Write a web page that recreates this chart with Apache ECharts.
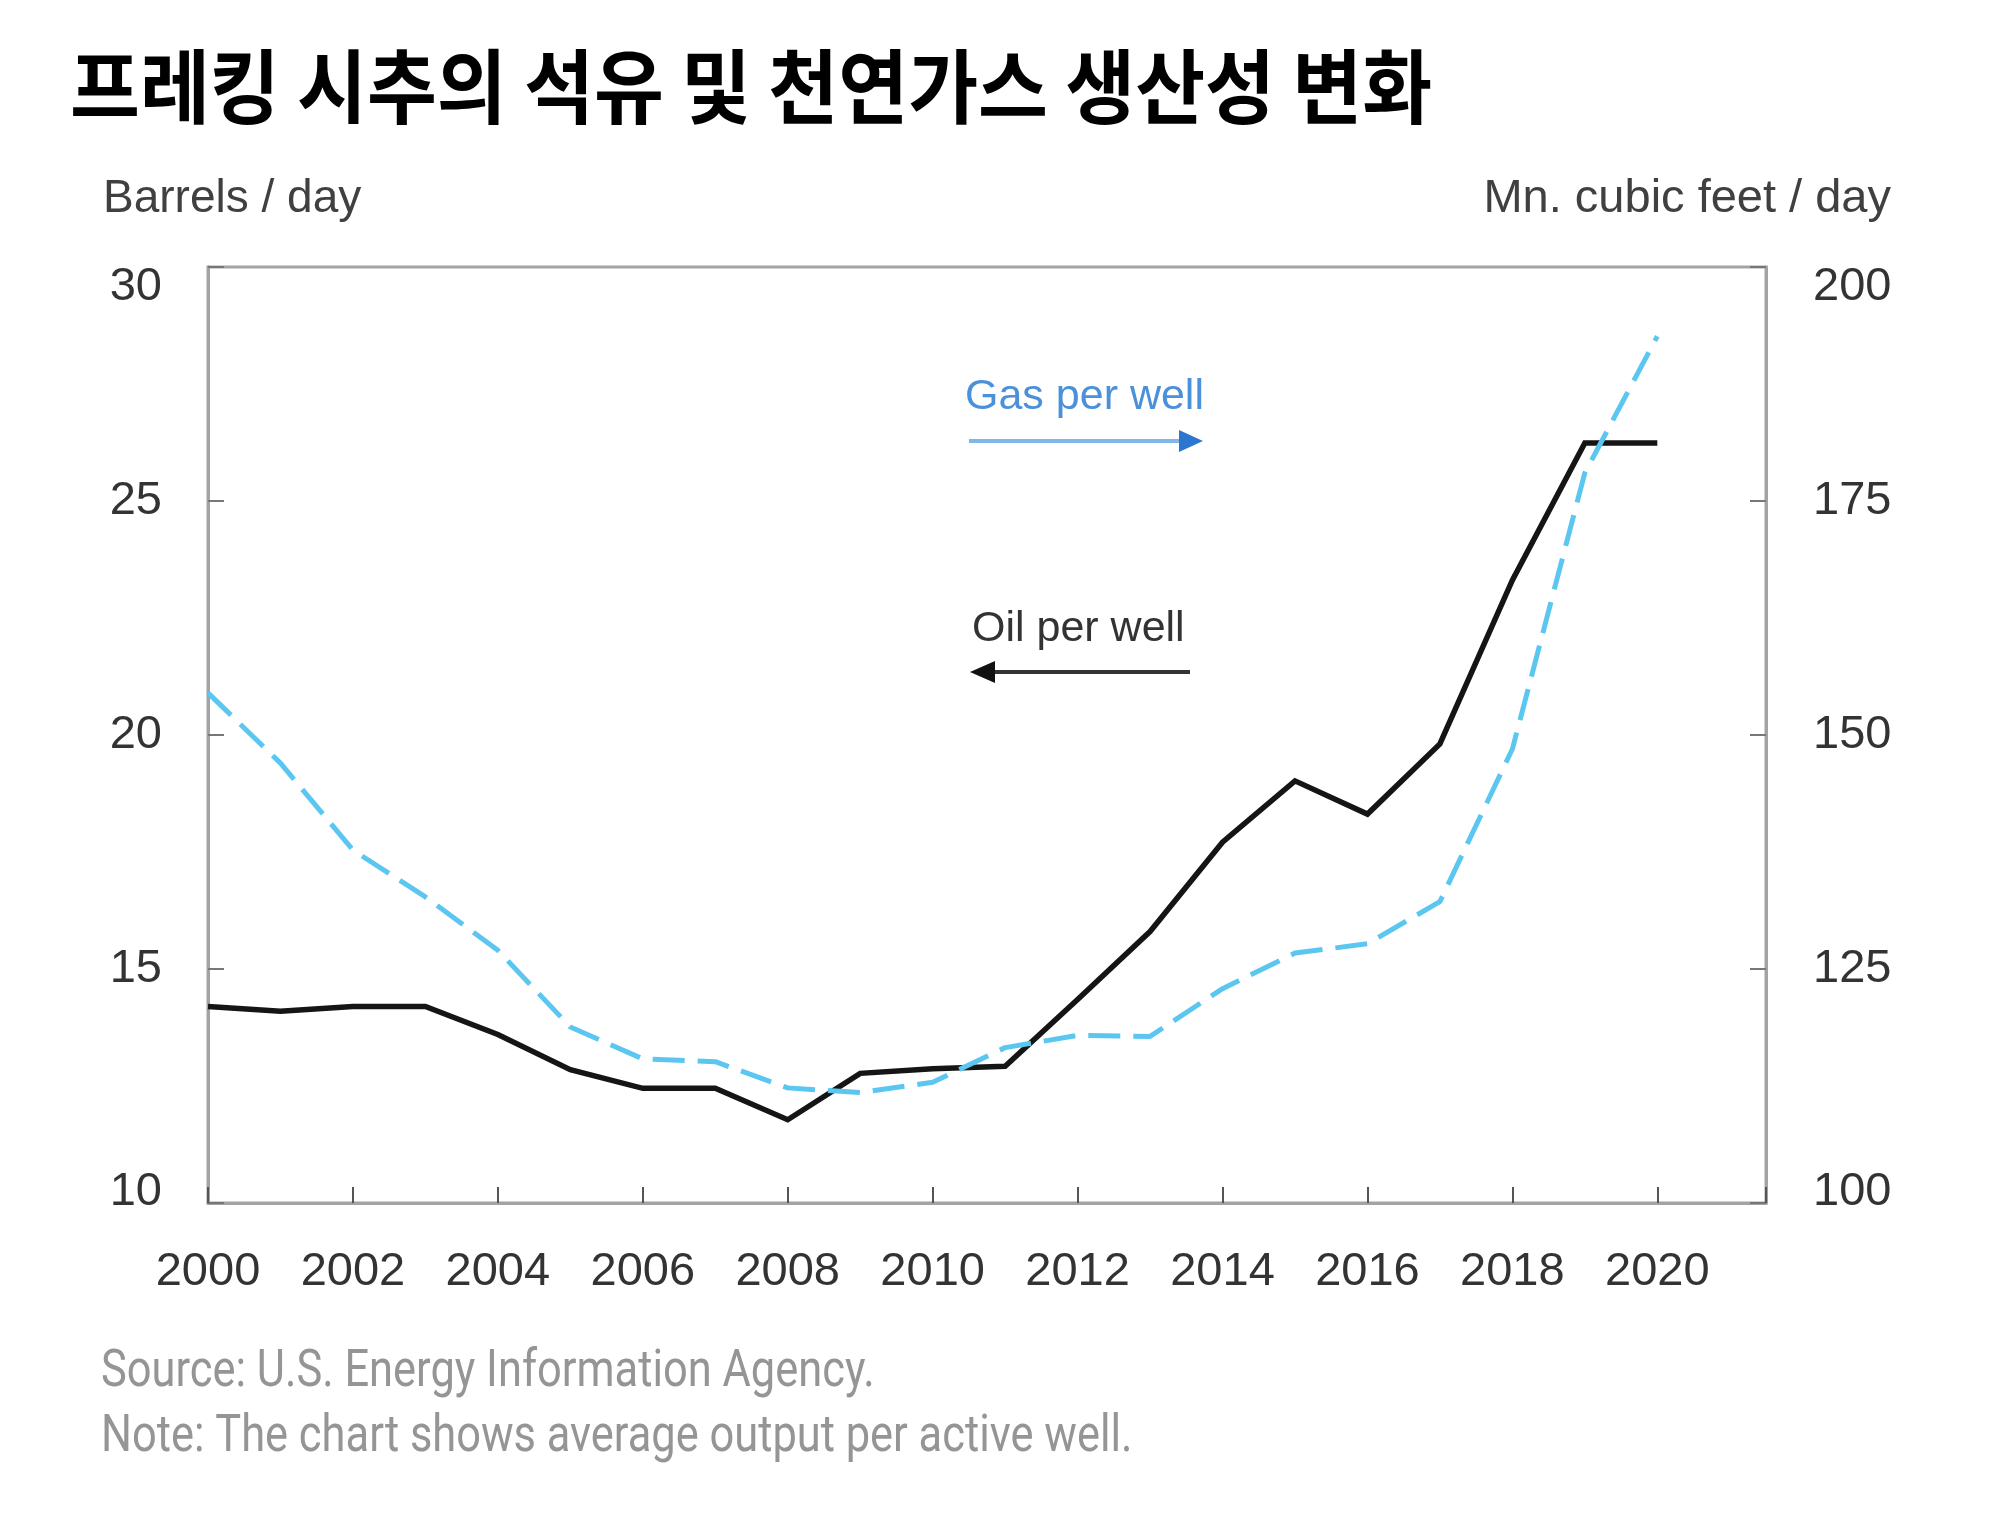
<!DOCTYPE html>
<html><head><meta charset="utf-8">
<script src="https://cdn.jsdelivr.net/npm/echarts@6/dist/echarts.min.js"></script>
<style>html,body{margin:0;padding:0;background:#fff}#c{width:2000px;height:1515px}</style>
</head><body><div id="c"></div>
<script>
// ---- data ----
const years = [2000,2001,2002,2003,2004,2005,2006,2007,2008,2009,2010,2011,2012,2013,2014,2015,2016,2017,2018,2019,2020];
const oilPerWell = [14.2,14.1,14.2,14.2,13.6,12.85,12.45,12.45,11.78,12.77,12.87,12.92,14.35,15.8,17.71,19.02,18.31,19.81,23.31,26.24,26.24];
const gasPerWell = [154.5,147.0,137.7,132.7,127.0,118.8,115.4,115.1,112.3,111.8,112.9,116.6,117.9,117.8,122.9,126.7,127.7,132.2,148.5,178.0,192.6];
const leftTicks = [10,15,20,25,30];
const rightTicks = [100,125,150,175,200];
const titleText = '프레킹 시추의 석유 및 천연가스 생산성 변화';
const leftUnit = 'Barrels / day';
const rightUnit = 'Mn. cubic feet / day';
const gasLabel = 'Gas per well';
const oilLabel = 'Oil per well';
const sourceText = 'Source: U.S. Energy Information Agency.';
const noteText = 'Note: The chart shows average output per active well.';

const FONT = '"Liberation Sans", Arial, sans-serif';
const AXIS = '#A3A3A3';
const LABEL = '#333333';

const oilData = years.map((y, i) => [y, oilPerWell[i]]);
const gasData = years.map((y, i) => [y, gasPerWell[i]]);

function yLabel(minV, maxV) {
  return v => v === maxV ? '{top|' + v + '}' : (v === minV ? '{bot|' + v + '}' : '{mid|' + v + '}');
}
const rich = {
  top: {fontSize: 47, fontFamily: FONT, color: LABEL, padding: [40, 0, 0, 0]},
  bot: {fontSize: 47, fontFamily: FONT, color: LABEL, padding: [0, 0, 22, 0]},
  mid: {fontSize: 47, fontFamily: FONT, color: LABEL}
};

const chart = echarts.init(document.getElementById('c'), null, {renderer: 'canvas'});
const option = {
  animation: false,
  backgroundColor: '#ffffff',
  grid: {left: 208, right: 234, top: 267, bottom: 312, show: true, borderColor: AXIS, borderWidth: 3, containLabel: false},
  xAxis: {
    type: 'value', min: 2000, max: 2021.5, interval: 2,
    axisLine: {show: true, lineStyle: {color: AXIS, width: 3}},
    axisTick: {show: true, inside: true, length: 16, lineStyle: {color: '#555', width: 2}},
    splitLine: {show: false},
    axisLabel: {
      margin: 46, fontSize: 47, fontFamily: FONT, color: LABEL,
      formatter: v => (Number.isInteger(v) && v % 2 === 0) ? String(v) : ''
    }
  },
  yAxis: [
    {
      type: 'value', min: leftTicks[0], max: leftTicks[leftTicks.length - 1], interval: 5, position: 'left',
      axisLine: {show: true, lineStyle: {color: AXIS, width: 3}},
      axisTick: {show: true, inside: true, length: 16, lineStyle: {color: '#777', width: 2}},
      splitLine: {show: false},
      axisLabel: {margin: 46, formatter: yLabel(10, 30), rich: rich, fontSize: 47, fontFamily: FONT, color: LABEL}
    },
    {
      type: 'value', min: rightTicks[0], max: rightTicks[rightTicks.length - 1], interval: 25, position: 'right',
      axisLine: {show: true, lineStyle: {color: AXIS, width: 3}},
      axisTick: {show: true, inside: true, length: 16, lineStyle: {color: '#777', width: 2}},
      splitLine: {show: false},
      axisLabel: {margin: 47, formatter: yLabel(100, 200), rich: rich, fontSize: 47, fontFamily: FONT, color: LABEL}
    }
  ],
  series: [
    {
      name: oilLabel, type: 'line', yAxisIndex: 0, data: oilData, symbol: 'none', smooth: false,
      lineStyle: {color: '#151515', width: 5.5, cap: 'butt', join: 'miter'}, z: 3
    },
    {
      name: gasLabel, type: 'line', yAxisIndex: 1, data: gasData, symbol: 'none', smooth: false,
      lineStyle: {color: '#5BC6EF', width: 5, type: [32, 13]}, z: 4
    }
  ],
  graphic: [
    {type: 'text', x: 70, y: 86, scaleY: 1.06, style: {x: 0, y: 0, text: titleText, fontSize: 76, fontWeight: 'bold', fontFamily: '"Noto Sans CJK KR", sans-serif', fill: '#000', verticalAlign: 'middle', align: 'left'}},
    {type: 'text', style: {x: 103, y: 199, text: leftUnit, fontSize: 46, fontFamily: FONT, fill: '#404040', verticalAlign: 'middle', align: 'left'}},
    {type: 'text', style: {x: 1891, y: 199, text: rightUnit, fontSize: 47, fontFamily: FONT, fill: '#404040', verticalAlign: 'middle', align: 'right'}},
    {type: 'text', style: {x: 965, y: 397, text: gasLabel, fontSize: 43, fontFamily: FONT, fill: '#4A90DA', verticalAlign: 'middle', align: 'left'}},
    {type: 'line', shape: {x1: 969, y1: 441, x2: 1183, y2: 441}, style: {stroke: '#82B6E8', lineWidth: 4}},
    {type: 'polygon', shape: {points: [[1179, 430], [1203, 441], [1179, 452]]}, style: {fill: '#2C76CF'}},
    {type: 'text', style: {x: 972, y: 629, text: oilLabel, fontSize: 43, fontFamily: FONT, fill: '#333', verticalAlign: 'middle', align: 'left'}},
    {type: 'line', shape: {x1: 990, y1: 672, x2: 1190, y2: 672}, style: {stroke: '#333', lineWidth: 4}},
    {type: 'polygon', shape: {points: [[995, 661], [970, 672], [995, 683]]}, style: {fill: '#111'}},
    {type: 'text', x: 101, y: 1373, scaleX: 0.835, style: {x: 0, y: 0, text: sourceText, fontSize: 52, fontFamily: 'Roboto, sans-serif', fill: '#959595', verticalAlign: 'middle', align: 'left'}},
    {type: 'text', x: 101, y: 1438, scaleX: 0.835, style: {x: 0, y: 0, text: noteText, fontSize: 52, fontFamily: 'Roboto, sans-serif', fill: '#959595', verticalAlign: 'middle', align: 'left'}}
  ]
};
chart.setOption(option);
</script>
</body></html>
